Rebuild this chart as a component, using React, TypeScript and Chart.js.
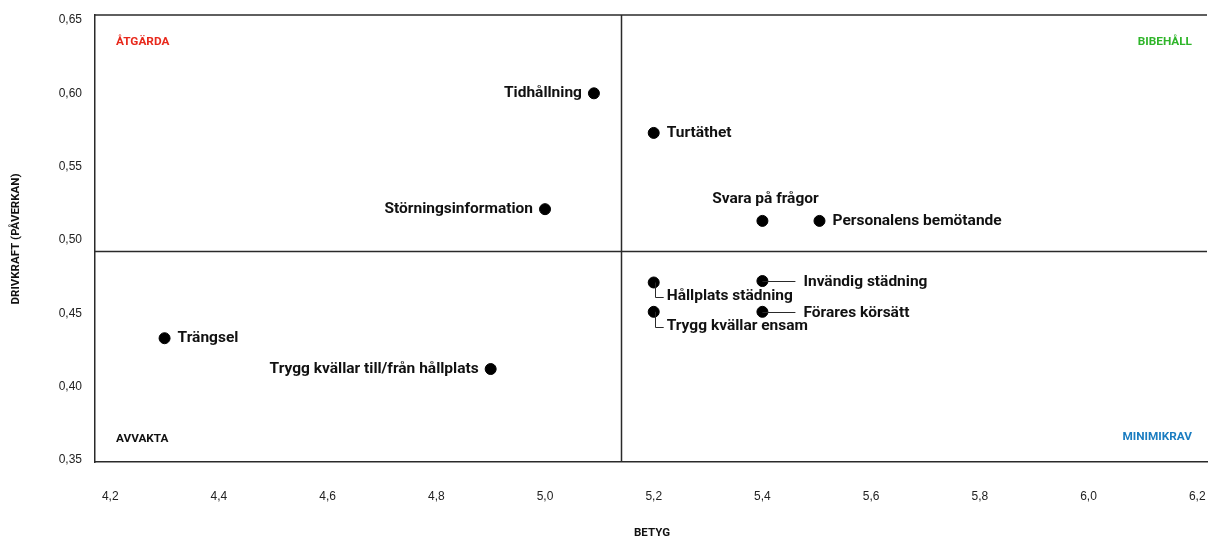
import { useEffect, useRef } from 'react';
import { Chart, registerables } from 'chart.js';

Chart.register(...registerables);

// ---- data ----
const names = [
  'Tidhållning',
  'Turtäthet',
  'Störningsinformation',
  'Svara på frågor',
  'Personalens bemötande',
  'Invändig städning',
  'Hållplats städning',
  'Förares körsätt',
  'Trygg kvällar ensam',
  'Trängsel',
  'Trygg kvällar till/från hållplats',
];
const betyg = [5.09, 5.2, 5.0, 5.4, 5.505, 5.4, 5.2, 5.4, 5.2, 4.3, 4.9];
const drivkraft = [0.6, 0.573, 0.521, 0.513, 0.513, 0.472, 0.471, 0.451, 0.451, 0.433, 0.412];
const labelPlacement = ['left', 'right', 'left', 'above', 'right', 'lineRight', 'elbow', 'lineRight', 'elbow', 'right', 'left'];

const xTicks = [4.2, 4.4, 4.6, 4.8, 5.0, 5.2, 5.4, 5.6, 5.8, 6.0, 6.2];
const yTicks = [0.35, 0.4, 0.45, 0.5, 0.55, 0.6, 0.65];
const xDivider = 5.14;
const yDivider = 0.4925;
const quadrantLabels = ['ÅTGÄRDA', 'BIBEHÅLL', 'AVVAKTA', 'MINIMIKRAV'];
const quadrantColors = ['#e8291c', '#2fb52a', '#111111', '#1b7dc1'];
const xTitle = 'BETYG';
const yTitle = 'DRIVKRAFT (PÅVERKAN)';

const fmt = (v: number, d: number) => v.toFixed(d).replace('.', ',');

const LINE = '#2a2a2a';
const LABEL_FONT = 'bold 15.5px Roboto, "Noto Sans", sans-serif';
const SMALL_FONT = 'bold 11.8px Roboto, "Noto Sans", sans-serif';

const overlay = {
  id: 'overlay',
  beforeDatasetsDraw(chart: any) {
    const { ctx, chartArea: a, scales } = chart;
    const xs = scales.x;
    const ys = scales.y;
    ctx.save();
    ctx.strokeStyle = LINE;
    ctx.lineWidth = 1.5;
    // top border
    ctx.beginPath();
    ctx.moveTo(a.left, a.top);
    ctx.lineTo(a.right, a.top);
    ctx.stroke();
    // quadrant dividers
    const vx = Math.round(xs.getPixelForValue(xDivider)) + 0.5;
    const hy = Math.round(ys.getPixelForValue(yDivider)) + 0.5;
    ctx.beginPath();
    ctx.moveTo(vx, a.top);
    ctx.lineTo(vx, a.bottom);
    ctx.moveTo(a.left, hy);
    ctx.lineTo(a.right, hy);
    ctx.stroke();

    // quadrant labels
    ctx.font = SMALL_FONT;
    ctx.textBaseline = 'middle';
    ctx.fillStyle = quadrantColors[0];
    ctx.textAlign = 'left';
    ctx.fillText(quadrantLabels[0], 116, 42);
    ctx.fillStyle = quadrantColors[1];
    ctx.textAlign = 'right';
    ctx.fillText(quadrantLabels[1], 1192, 42);
    ctx.fillStyle = quadrantColors[2];
    ctx.textAlign = 'left';
    ctx.fillText(quadrantLabels[2], 116, 439);
    ctx.fillStyle = quadrantColors[3];
    ctx.textAlign = 'right';
    ctx.fillText(quadrantLabels[3], 1192, 437);

    // axis titles
    ctx.fillStyle = '#111';
    ctx.font = 'bold 11.5px Roboto, "Noto Sans", sans-serif';
    ctx.textAlign = 'center';
    ctx.fillText(xTitle, 652, 533);
    ctx.save();
    ctx.translate(16, 239);
    ctx.rotate(-Math.PI / 2);
    ctx.fillText(yTitle, 0, 0);
    ctx.restore();
    ctx.restore();
  },
  afterDatasetsDraw(chart: any) {
    const { ctx } = chart;
    const meta = chart.getDatasetMeta(0);
    ctx.save();
    ctx.font = LABEL_FONT;
    ctx.fillStyle = '#111';
    ctx.strokeStyle = LINE;
    ctx.lineWidth = 1;
    ctx.textBaseline = 'middle';
    meta.data.forEach((pt: any, i: number) => {
      const px = pt.x;
      const py = pt.y;
      const name = names[i];
      const place = labelPlacement[i];
      if (place === 'left') {
        ctx.textAlign = 'right';
        ctx.fillText(name, px - 12, py);
      } else if (place === 'right') {
        ctx.textAlign = 'left';
        ctx.fillText(name, px + 13, py);
      } else if (place === 'above') {
        ctx.textAlign = 'center';
        ctx.fillText(name, px + 3, py - 22);
      } else if (place === 'lineRight') {
        ctx.beginPath();
        ctx.moveTo(px, Math.round(py) + 0.5);
        ctx.lineTo(px + 33, Math.round(py) + 0.5);
        ctx.stroke();
        ctx.textAlign = 'left';
        ctx.fillText(name, px + 41, py + 1);
      } else if (place === 'elbow') {
        const ex = Math.round(px) + 1.5;
        const ey = Math.round(py) + 15.5;
        ctx.beginPath();
        ctx.moveTo(ex, py);
        ctx.lineTo(ex, ey);
        ctx.lineTo(px + 10, ey);
        ctx.stroke();
        ctx.textAlign = 'left';
        ctx.fillText(name, px + 13, py + 14);
      }
    });
    ctx.restore();
  },
};

export default function App() {
  const ref = useRef<HTMLCanvasElement>(null);
  useEffect(() => {
    if (!ref.current) return;
    const chart = new Chart(ref.current, {
      type: 'scatter',
      data: {
        datasets: [
          {
            label: 'Faktorer',
            data: betyg.map((b, i) => ({ x: b, y: drivkraft[i] })),
            backgroundColor: '#000',
            borderColor: '#000',
            pointRadius: 5.5,
            pointHoverRadius: 5.5,
          },
        ],
      },
      options: {
        animation: false,
        responsive: false,
        maintainAspectRatio: false,
        layout: { autoPadding: false, padding: { top: 15, right: 1, left: 0, bottom: 0 } },
        plugins: {
          legend: { display: false },
          tooltip: { enabled: false },
          title: { display: false },
        },
        scales: {
          x: {
            type: 'linear',
            min: 4.172,
            max: 6.218,
            afterBuildTicks: (s: any) => {
              s.ticks = xTicks.map((v) => ({ value: v }));
            },
            afterFit: (s: any) => {
              s.height = 76;
              s.paddingLeft = 0;
              s.paddingRight = 0;
            },
            ticks: {
              callback: (v: any) => fmt(Number(v), 1),
              color: '#222',
              font: { family: '"Liberation Sans", Arial, sans-serif', size: 12 },
              padding: 27,
              maxRotation: 0,
              autoSkip: false,
            },
            grid: { display: false, drawTicks: false },
            border: { display: true, color: LINE, width: 1.5 },
          },
          y: {
            type: 'linear',
            min: 0.3486,
            max: 0.6534,
            afterBuildTicks: (s: any) => {
              s.ticks = yTicks.map((v) => ({ value: v }));
            },
            afterFit: (s: any) => {
              s.width = 95;
              s.paddingTop = 0;
              s.paddingBottom = 0;
            },
            ticks: {
              callback: (v: any) => fmt(Number(v), 2),
              color: '#222',
              font: { family: '"Liberation Sans", Arial, sans-serif', size: 12 },
              padding: 13,
              autoSkip: false,
            },
            grid: { display: false, drawTicks: false },
            border: { display: true, color: LINE, width: 1.5 },
          },
        },
      },
      plugins: [overlay],
    });
    return () => chart.destroy();
  }, []);
  return (
    <div style={{ position: 'fixed', left: 0, top: 0, width: 1208, height: 538, background: '#fff' }}>
      <canvas ref={ref} width={1208} height={538} style={{ display: 'block', width: 1208, height: 538 }} />
    </div>
  );
}
